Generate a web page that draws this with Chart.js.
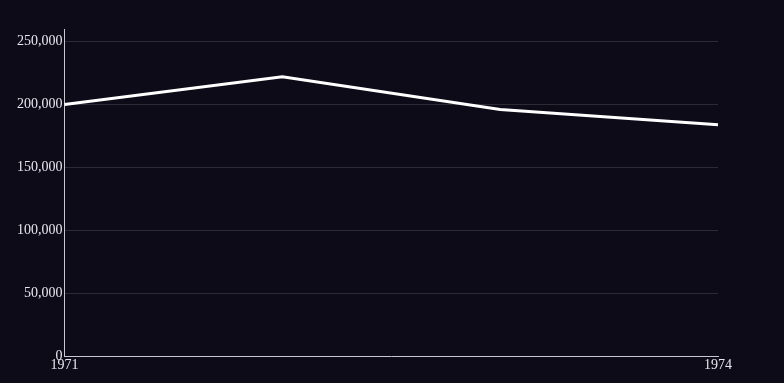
<!DOCTYPE html>
<html>
<head>
<meta charset="utf-8">
<script src="https://cdn.jsdelivr.net/npm/chart.js@4/dist/chart.umd.min.js"></script>
<style>
  html, body { margin: 0; padding: 0; background: #0e0b19; }
  #wrap { width: 784px; height: 383px; }
</style>
</head>
<body>
<div id="wrap"><canvas id="chartCanvas"></canvas></div>
<script>
// values
const years = ['1971', '1972', '1973', '1974'];
const values = [200000, 222000, 196000, 184000];
const yTicks = [0, 50000, 100000, 150000, 200000, 250000];

const ctx = document.getElementById('chartCanvas').getContext('2d');
new Chart(ctx, {
    type: 'line',
    data: {
        labels: years,
        datasets: [{
            label: 'Value',
            data: values,
            borderColor: '#ffffff',
            borderWidth: 3,
            pointRadius: 0,
            tension: 0,
            fill: false
        }]
    },
    options: {
        responsive: true,
        maintainAspectRatio: false,
        animation: false,
        layout: { padding: { top: 29, right: 66, left: 15, bottom: 8 } },
        plugins: { legend: { display: false }, tooltip: { enabled: false } },
        scales: {
            x: {
                grid: { display: false, drawTicks: false },
                border: { color: '#c9c6d2', width: 1 },
                ticks: {
                    color: '#e8e6ee',
                    font: { family: 'Liberation Serif', size: 14 },
                    padding: 1,
                    autoSkip: false,
                    maxRotation: 0,
                    callback: function(v, i) {
                        return (i === 0 || i === years.length - 1) ? years[i] : null;
                    }
                }
            },
            y: {
                min: 0,
                max: 260000,
                afterBuildTicks: function(axis) {
                    axis.ticks = yTicks.map(v => ({ value: v }));
                },
                grid: { color: 'rgba(255,255,255,0.13)', drawTicks: false },
                border: { color: '#c9c6d2', width: 1 },
                ticks: {
                    color: '#e8e6ee',
                    font: { family: 'Liberation Serif', size: 14 },
                    padding: 2,
                    callback: v => v.toLocaleString('en-US')
                }
            }
        }
    }
});
</script>
</body>
</html>
